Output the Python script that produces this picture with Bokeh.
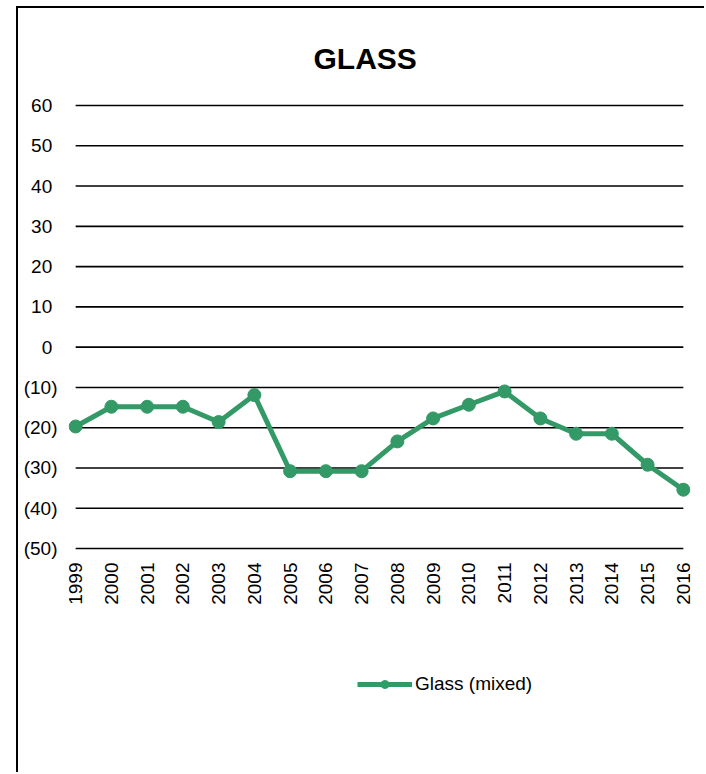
import math
from bokeh.plotting import figure
from bokeh.models import (ColumnDataSource, FixedTicker, CustomJSTickFormatter,
                          Legend, LegendItem, Range1d, LabelSet)
from bokeh.core.properties import value
from bokeh.embed import file_html
from bokeh.resources import INLINE

years = [1999, 2000, 2001, 2002, 2003, 2004, 2005, 2006, 2007, 2008,
         2009, 2010, 2011, 2012, 2013, 2014, 2015, 2016]
year_labels = ["1999", "2000", "2001", "2002", "2003", "2004", "2005", "2006",
               "2007", "2008", "2009", "2010", "2011", "2012", "2013", "2014",
               "2015", "2016"]
glass_mixed = [-19.7, -14.8, -14.8, -14.8, -18.6, -11.9, -30.8, -30.8, -30.8,
               -23.4, -17.7, -14.3, -11.0, -17.7, -21.5, -21.5, -29.2, -35.4]
y_ticks = [-50, -40, -30, -20, -10, 0, 10, 20, 30, 40, 50, 60]
title_text = "GLASS"
series_name = "Glass (mixed)"

GREEN = "#339966"
FONT = "Liberation Sans"

src = ColumnDataSource(dict(x=years, y=glass_mixed))
grid_src = ColumnDataSource(dict(x0=[years[0]] * len(y_ticks),
                                 x1=[years[-1]] * len(y_ticks),
                                 y=y_ticks))
cat_src = ColumnDataSource(dict(x=years, y=[y_ticks[0]] * len(years),
                                text=year_labels))

# plot area extends below the lowest gridline to leave room for the
# category labels and the legend
p = figure(width=688, height=766, output_backend="svg", toolbar_location=None,
           x_range=Range1d(years[0] - 0.2, years[-1] + 0.2),
           y_range=Range1d(y_ticks[0] - 47.67, y_ticks[-1] + 0.5),
           min_border_left=50, min_border_right=16,
           min_border_top=95, min_border_bottom=34)
p.margin = (6, 0, 0, 16)
p.styles = {"border-left": "2px solid black", "border-top": "2px solid black"}

p.title.text = title_text
p.title.align = "left"
p.title.offset = 245
p.title.vertical_align = "bottom"
p.title.standoff = 58
p.title.text_font = FONT
p.title.text_font_size = "30px"
p.title.text_font_style = "bold"
p.title.text_color = "black"

p.outline_line_color = None
p.background_fill_color = "white"
p.border_fill_color = "white"

# y axis
p.yaxis.ticker = FixedTicker(ticks=y_ticks)
p.yaxis.formatter = CustomJSTickFormatter(code="""
    return tick < 0 ? '(' + Math.abs(tick) + ')' : tick + '\\u2008';
""")
p.yaxis.axis_line_color = None
p.yaxis.major_tick_line_color = None
p.yaxis.minor_tick_line_color = None
p.yaxis.major_tick_out = 0
p.yaxis.major_tick_in = 0
p.yaxis.minor_tick_out = 0
p.yaxis.minor_tick_in = 0
p.yaxis.major_label_text_font = FONT
p.yaxis.major_label_text_font_size = "19px"
p.yaxis.major_label_text_color = "black"
p.yaxis.major_label_standoff = 11

p.xaxis.visible = False
p.xgrid.grid_line_color = None
p.ygrid.grid_line_color = None

# horizontal gridlines spanning the first to last year
p.segment(x0="x0", x1="x1", y0="y", y1="y", source=grid_src,
          line_color="black", line_width=1.6)

# category labels under the lowest gridline, reading upwards
p.add_layout(LabelSet(x="x", y="y", text="text", source=cat_src,
                      angle=math.pi / 2, text_align="right",
                      text_baseline="middle", y_offset=-14,
                      text_font=value(FONT), text_font_size="19px",
                      text_color="black"))

line_r = p.line("x", "y", source=src, line_color=GREEN, line_width=5)
pts_r = p.scatter("x", "y", source=src, size=13, fill_color=GREEN,
                  line_color=GREEN)

legend = Legend(items=[LegendItem(label=series_name, renderers=[line_r, pts_r])],
                location=(289, 45), margin=0, padding=0,
                border_line_alpha=0, background_fill_alpha=0,
                glyph_width=55, glyph_height=20, label_standoff=3,
                label_text_font=FONT, label_text_font_size="19px",
                label_text_color="black")
p.add_layout(legend, "center")

open("out.html", "w").write(file_html(p, INLINE))
